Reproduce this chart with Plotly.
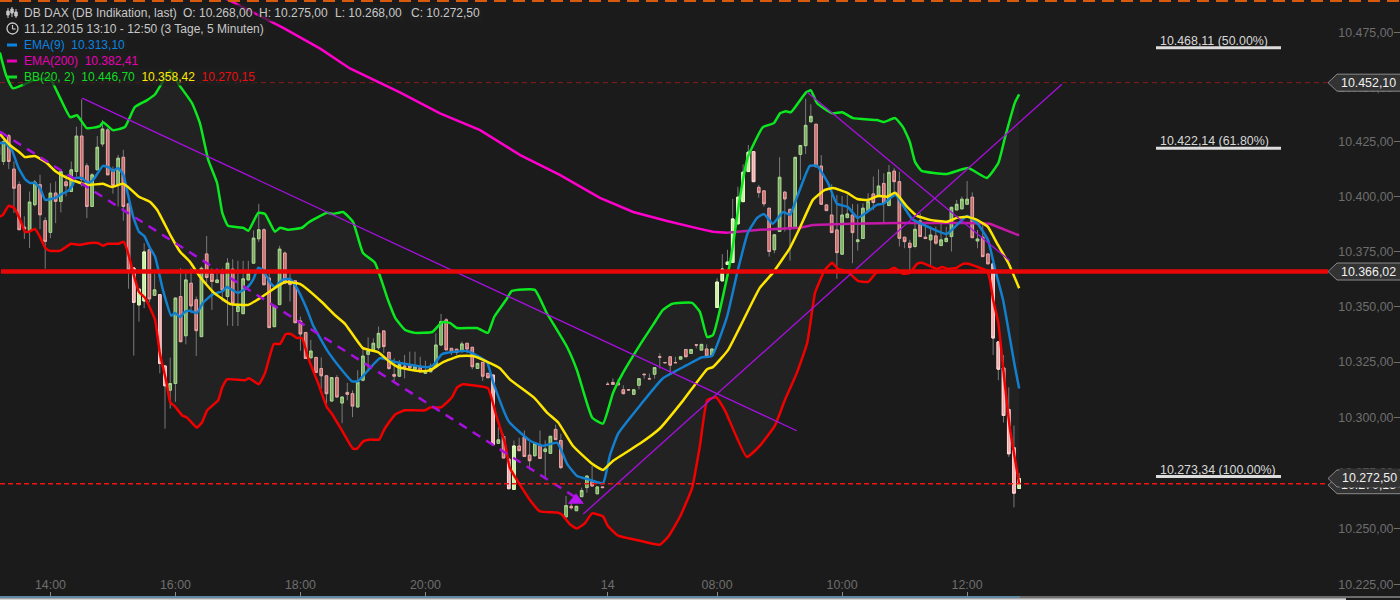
import math
import plotly.graph_objects as go

# ---- candles (5 minute bars, index 0 = 11.12.2015 13:10) ----
opens = [
10422.7,10416.1,10427.9,10412.6,10405.5,10386.2,10384.7,10396.4,10405.5,10389.1,
10383.8,10401.7,10397.9,10406.8,10402.4,10411.5,10427.7,10414.1,10395.6,10412.3,
10424.1,10430.5,10412.3,10405.5,10418.0,10396.8,10367.6,10350.9,10352.7,10375.9,
10355.2,10355.5,10323.2,10312.3,10315.3,10354.7,10336.9,10360.7,10353.2,10336.5,
10374.0,10365.0,10361.0,10365.0,10354.7,10367.1,10347.9,10346.9,10362.2,10369.8,
10380.9,10385.0,10363.0,10341.0,10351.0,10374.4,10362.2,10361.8,10343.6,10338.4,
10326.9,10327.1,10322.1,10318.8,10307.4,10318.0,10306.5,10311.3,10310.7,10304.7,
10316.8,10328.5,10330.4,10331.5,10339.1,10329.4,10319.4,10318.6,10323.2,10323.2,
10321.8,10322.6,10319.9,10320.6,10322.9,10332.7,10344.1,10331.2,10330.8,10329.7,
10333.5,10331.7,10322.1,10324.9,10319.9,10319.1,10288.3,10291.4,10281.2,10267.6,
10287.1,10291.1,10283.0,10282.7,10287.3,10284.6,10283.8,10294.6,10289.6,10255.2,
10260.0,10258.0,10264.3,10268.4,10271.1,10265.6,10268.7,10315.0,10315.8,10315.6,
10312.5,10312.5,10310.4,10314.5,10319.5,10317.5,10319.5,10327.4,10324.8,10327.4,
10324.8,10326.3,10330.7,10328.9,10332.8,10330.4,10330.9,10328.1,10349.7,10361.8,
10369.2,10370.1,10387.7,10397.8,10411.5,10420.6,10404.3,10402.7,10394.8,10375.9,
10384.2,10402.1,10394.3,10386.0,10419.3,10423.3,10434.2,10433.1,10414.0,10396.3,
10391.7,10384.9,10373.9,10390.5,10391.7,10379.6,10381.0,10393.7,10401.3,10400.1,
10406.1,10396.0,10411.7,10406.9,10381.6,10378.9,10377.4,10389.0,10381.6,10380.4,
10382.2,10377.8,10379.6,10381.9,10394.0,10394.5,10396.6,10399.8,10379.9,10381.6,
10374.0,10369.5,10334.1,10322.3,10303.6,10286.3,10268.0]
highs = [
10424.1,10426.7,10428.6,10416.1,10407.0,10391.1,10402.4,10407.7,10410.0,10390.6,
10406.2,10407.0,10412.3,10410.0,10416.1,10432.0,10444.5,10415.3,10410.8,10427.7,
10435.0,10431.4,10413.8,10419.1,10421.4,10396.8,10367.6,10358.0,10378.9,10378.2,
10365.0,10355.5,10323.2,10327.0,10354.0,10367.5,10366.8,10367.5,10354.7,10368.3,
10382.2,10367.5,10366.0,10367.5,10372.1,10371.6,10370.9,10370.9,10370.9,10384.7,
10396.8,10385.7,10366.8,10350.4,10377.7,10375.1,10365.0,10361.8,10345.6,10338.4,
10335.0,10327.1,10327.1,10318.8,10318.0,10319.1,10309.2,10315.6,10312.2,10321.3,
10331.2,10336.2,10335.7,10341.1,10339.1,10329.4,10326.7,10325.9,10328.2,10329.7,
10329.7,10327.4,10325.6,10324.4,10338.0,10346.8,10344.9,10331.2,10330.8,10334.3,
10333.5,10331.7,10324.4,10324.9,10319.9,10319.1,10295.6,10292.6,10281.2,10289.6,
10290.8,10294.1,10288.8,10288.3,10294.1,10289.6,10291.5,10296.7,10292.6,10264.6,
10263.0,10260.0,10268.4,10273.6,10278.2,10268.7,10268.7,10316.1,10317.6,10317.5,
10314.5,10312.5,10312.5,10317.5,10319.8,10319.8,10322.5,10328.9,10324.8,10327.4,
10327.4,10327.4,10330.7,10330.7,10332.8,10333.0,10333.0,10330.9,10363.0,10373.9,
10375.9,10399.0,10404.6,10414.8,10423.6,10420.6,10405.4,10402.7,10394.8,10382.7,
10418.0,10402.7,10394.3,10418.0,10423.4,10444.8,10442.2,10433.1,10419.0,10396.3,
10405.7,10400.8,10400.4,10400.8,10396.7,10396.7,10397.0,10401.6,10409.2,10412.5,
10410.7,10414.5,10413.0,10411.4,10381.6,10380.4,10389.5,10392.5,10388.3,10386.4,
10386.4,10389.2,10386.4,10395.5,10398.6,10400.1,10407.2,10402.0,10384.9,10388.0,
10374.0,10369.5,10334.1,10328.2,10313.6,10296.3,10275.0]
lows = [
10417.6,10414.5,10412.6,10392.6,10385.0,10380.8,10376.7,10395.6,10385.3,10367.3,
10381.2,10388.0,10392.9,10400.2,10402.4,10409.2,10404.7,10390.3,10395.3,10412.3,
10422.9,10410.0,10401.4,10395.6,10389.1,10358.2,10327.9,10343.3,10349.4,10352.1,
10355.2,10319.9,10294.9,10304.0,10307.0,10334.2,10333.0,10347.1,10327.8,10336.5,
10360.7,10348.6,10361.0,10352.4,10341.5,10341.3,10341.3,10346.9,10362.2,10369.8,
10379.4,10360.0,10340.3,10341.0,10351.0,10360.7,10352.4,10342.8,10330.1,10326.6,
10326.9,10320.3,10313.0,10305.0,10307.1,10309.2,10297.4,10307.7,10300.1,10304.7,
10316.3,10321.3,10330.4,10330.5,10329.0,10321.4,10315.6,10318.6,10317.6,10321.4,
10321.4,10320.6,10319.9,10320.6,10322.9,10332.7,10330.5,10328.2,10328.2,10329.7,
10329.0,10321.7,10322.1,10316.5,10317.9,10287.7,10288.3,10281.7,10267.9,10267.6,
10285.0,10282.4,10276.4,10282.7,10281.5,10272.4,10283.8,10290.0,10276.7,10255.2,
10258.5,10258.0,10264.3,10266.1,10269.1,10265.6,10268.4,10314.9,10314.9,10314.7,
10310.7,10312.4,10310.4,10312.7,10317.5,10317.4,10317.5,10322.1,10324.7,10320.1,
10324.7,10326.3,10327.4,10328.9,10331.2,10330.4,10327.7,10328.1,10349.7,10361.8,
10369.2,10370.1,10387.7,10397.8,10411.5,10406.9,10399.6,10395.6,10372.8,10374.3,
10384.2,10384.2,10371.0,10386.0,10407.7,10419.5,10434.2,10413.7,10396.6,10393.7,
10383.7,10362.7,10373.9,10390.5,10369.8,10375.5,10381.0,10393.7,10394.0,10400.1,
10388.0,10396.0,10400.1,10377.4,10376.6,10366.7,10376.6,10381.9,10381.0,10368.3,
10378.1,10377.8,10379.6,10375.1,10394.0,10394.5,10396.6,10381.4,10376.6,10372.8,
10369.5,10328.2,10316.8,10297.7,10282.2,10259.5,10268.0]
closes = [
10419.1,10425.2,10416.1,10403.9,10385.0,10385.3,10397.6,10406.7,10391.8,10379.7,
10401.7,10397.9,10411.5,10405.0,10412.3,10427.7,10408.0,10395.6,10410.0,10422.6,
10430.9,10410.0,10405.2,10417.6,10395.6,10366.8,10352.0,10358.0,10374.9,10353.6,
10357.7,10324.4,10314.3,10315.3,10354.0,10334.2,10362.2,10350.4,10339.2,10367.5,
10363.3,10361.5,10362.2,10357.7,10369.8,10351.6,10350.1,10362.7,10365.0,10381.2,
10385.0,10360.0,10340.6,10350.4,10376.2,10360.7,10360.1,10342.8,10337.7,10326.6,
10330.0,10320.3,10318.8,10310.7,10318.0,10309.2,10309.2,10310.4,10305.1,10316.0,
10327.7,10330.1,10333.5,10338.0,10332.0,10322.1,10318.6,10323.9,10322.7,10322.4,
10323.2,10320.6,10321.1,10322.1,10332.7,10343.3,10330.5,10329.4,10329.4,10333.2,
10330.9,10322.9,10324.4,10318.6,10317.9,10287.7,10289.9,10281.7,10267.9,10287.1,
10285.0,10282.4,10280.5,10288.3,10281.5,10285.8,10291.5,10290.0,10277.4,10260.3,
10259.3,10260.0,10267.1,10273.6,10269.1,10268.7,10268.4,10314.9,10314.9,10314.7,
10310.7,10312.4,10312.5,10317.5,10319.3,10317.4,10322.5,10327.2,10324.7,10323.6,
10324.7,10327.4,10327.4,10330.7,10332.7,10333.0,10327.7,10330.9,10361.2,10367.1,
10370.3,10389.9,10399.8,10411.2,10420.3,10406.9,10401.9,10396.8,10375.1,10382.7,
10408.9,10399.0,10385.4,10418.0,10423.4,10432.6,10436.7,10413.7,10396.6,10393.7,
10383.7,10374.6,10391.7,10392.2,10383.7,10380.4,10394.8,10397.8,10397.4,10404.9,
10397.0,10411.1,10406.9,10381.1,10379.6,10376.9,10385.2,10381.9,10381.0,10382.6,
10378.9,10380.4,10381.1,10395.2,10396.6,10398.9,10398.9,10381.4,10380.8,10372.8,
10369.5,10335.9,10321.8,10300.9,10283.6,10265.9,10272.5]

# bars that the chart paints in a paler tone
pale_bars = [26, 27, 28, 31, 32, 95, 98, 99, 138, 139, 140, 141, 142, 143, 144, 145, 191, 192, 193, 194, 195, 196]

# ---- Bollinger upper ----
bb_up_x = [0.3,1.5,2.8,6.7,9.9,11.8,13.8,15.1,17,19.5,20.1,22,24.3,26.2,28.5,30.1,33,34.5,37.2,38.7,40.3,42,43,44.1,47,48,49.9,51.2,53.1,54.1,55.6,58.3,59.5,63.1,64.3,66.2,68.1,70,72.3,74.8,76.2,78.1,80,83.3,85.2,86.7,88.1,91.9,94,95.2,97.5,98.6,103,105.3,109.2,111.1,114,116.1,118,119.7,123.8,125.7,127.6,129.3,133.2,134.7,136.1,137.2,140.1,141,142.4,143.9,146.8,148.9,150.1,151.2,152.2,155.1,156,157.2,160.1,162,164.1,168.7,170,172.2,173.7,175,176,177.3,182.1,186.2,189.8,192,193.3,195.2,196]
bb_up_y = [10465.9,10455.4,10449.5,10453.1,10454.0,10445.4,10436.3,10437.2,10431.3,10432.2,10434.0,10430.4,10431.8,10440.9,10444.0,10446.8,10457.7,10451.8,10442.7,10433.6,10416.8,10406.3,10392.7,10386.8,10385.9,10384.5,10392.7,10392.2,10384.1,10385.9,10385.0,10385.9,10388.2,10392.7,10392.2,10393.1,10388.6,10374.5,10370.0,10353.2,10345.0,10339.5,10338.2,10338.6,10343.1,10342.7,10340.4,10340.4,10338.2,10345.4,10353.2,10357.2,10357.7,10347.2,10331.8,10321.3,10300.0,10297.2,10310.9,10319.1,10335.0,10341.8,10348.6,10351.3,10351.8,10347.7,10336.3,10337.2,10365.4,10377.2,10400.0,10418.1,10431.8,10433.6,10438.1,10439.0,10438.6,10447.7,10448.6,10442.7,10438.1,10438.6,10435.9,10435.0,10434.1,10435.9,10431.8,10425.0,10415.9,10411.8,10410.4,10413.1,10408.6,10415.4,10427.2,10443.1,10446.7]

# ---- Bollinger lower ----
bb_lo_x = [0.3,0.9,2,3,4.2,5.1,5.9,7,8,9,9.9,11.8,14,15.7,17.6,19.1,20.1,21,23,24.1,24.9,26,27,28.2,30.1,31,32.2,33,33.9,35.3,36.2,38.1,39.1,40.1,42.2,43,43.9,47.4,48.1,50,51.2,52.9,54.1,55.2,56.2,57.3,58.3,59.5,61.4,63.1,64,66,68.1,68.9,70,71.4,73.1,74.2,76.2,78.1,81.9,82.9,85,87.1,88.1,89.2,91.1,94,95.7,97.3,98.2,102.1,104,107.3,108.2,109.8,111.1,112.6,114,116.1,117,119,123.2,127,128.6,130.9,133.2,134.7,136.1,137.8,139.5,143.7,146.2,149.1,151,153.3,155.3,156.8,157.8,158.7,160.1,161.2,163.1,165,167,168.7,170.8,172,173.7,175,176.4,177.3,180.2,181.2,182.3,184,185.2,186.2,189.8,190.4,191,192,192.9,194.2,196]
bb_lo_y = [10390.9,10391.8,10395.9,10395.0,10389.5,10384.1,10384.1,10385.4,10381.8,10376.8,10375.4,10375.4,10378.6,10378.1,10379.0,10379.0,10377.7,10378.6,10378.6,10379.5,10374.5,10364.5,10356.8,10354.0,10344.0,10329.0,10316.8,10306.8,10305.0,10300.9,10300.0,10295.4,10297.7,10303.2,10307.7,10313.6,10317.2,10316.8,10317.7,10315.0,10320.0,10333.2,10333.2,10337.7,10337.7,10335.9,10335.9,10326.8,10315.4,10304.5,10301.8,10294.0,10285.9,10285.9,10289.1,10290.0,10290.0,10295.0,10301.3,10303.2,10303.2,10304.5,10304.5,10309.1,10313.6,10315.0,10314.5,10313.2,10300.0,10288.2,10277.3,10262.7,10257.7,10257.2,10256.3,10251.8,10250.0,10252.3,10256.8,10255.4,10251.3,10246.8,10244.5,10242.7,10246.3,10255.4,10268.2,10287.2,10307.7,10309.1,10303.2,10282.2,10287.2,10296.3,10307.7,10320.0,10333.6,10356.3,10362.2,10366.8,10370.0,10367.2,10365.9,10361.8,10361.3,10365.9,10366.3,10367.7,10365.0,10365.4,10369.5,10370.0,10367.2,10368.1,10367.2,10367.7,10369.5,10369.5,10366.3,10362.2,10353.2,10342.7,10322.7,10295.4,10270.15]

# ---- Bollinger middle ----
bb_mid_x = [0.3,2.2,4.2,5.1,7,9.3,10.9,12.8,14.7,17.2,20.1,21.8,23.9,24.9,27,29.1,30.5,33,34.9,36.8,38.7,41.2,43,44.5,48,50.6,53.7,55,57.9,62.1,64.6,66.6,70,72.9,75.2,76.7,81,82.9,85.4,88.6,91.1,94,96.3,98.2,103,105.3,107.5,110.3,114,116.1,118,123.2,127,131.5,136.1,137.2,140.1,142.4,146.2,148.7,152,153.9,156.4,158.7,160.3,163,164.9,167,168.9,170.6,172.2,174.5,176.4,178.9,182.1,184,186,187.9,190,191.7,193.9,196]
bb_mid_y = [10428.6,10423.6,10420.0,10418.1,10418.6,10415.4,10411.8,10409.1,10407.2,10405.4,10405.9,10404.5,10405.9,10404.5,10400.0,10397.7,10394.0,10382.7,10375.0,10370.4,10363.6,10356.8,10353.6,10351.3,10350.9,10354.5,10359.5,10361.3,10360.4,10352.2,10346.3,10342.2,10331.3,10329.5,10325.0,10322.7,10320.9,10321.3,10325.0,10327.7,10327.7,10325.0,10322.2,10317.2,10308.6,10302.3,10297.7,10287.2,10279.1,10276.3,10280.4,10288.2,10295.0,10307.7,10321.8,10322.7,10330.4,10340.9,10358.6,10365.4,10376.8,10385.9,10398.6,10403.1,10404.0,10401.8,10399.0,10398.6,10400.4,10400.0,10401.8,10395.4,10391.3,10389.5,10388.6,10390.4,10390.9,10389.5,10386.3,10379.0,10370.0,10358.42]

# ---- EMA(9) ----
ema9_x = [0.3,1.3,2.6,3.8,5.1,6.1,7,8,9,10.9,12.2,13.4,14.3,14.7,16,17.2,18.2,20.1,21.4,22,23,24,24.9,25.9,27,28,29.1,30.1,31.6,33.2,33.9,34.9,35.8,36.8,38.1,39.3,41,42,43.1,43.9,46,47.9,48.9,49.9,50.8,52.2,53.1,54.5,56,57.3,59.3,60.4,63.1,66,67.9,69,73.3,76.2,82.3,83.5,85.2,90,93.8,95,98,102.1,104.6,107.3,109.2,111.1,113.2,116.1,117.4,119,123.2,127.6,132.2,135.1,137,139.9,142,143.9,145.7,147,148.7,150.7,152,153.3,155.8,157.2,159.3,161,163.1,165,168.7,169.9,172.2,175.4,178.9,182.1,186,187.9,190,191.4,192.9,195.2,196]
ema9_y = [10424.5,10424.5,10421.3,10413.6,10408.1,10406.3,10406.3,10404.0,10398.6,10399.5,10401.3,10402.7,10405.4,10408.6,10408.6,10406.3,10407.7,10414.1,10413.1,10411.8,10413.1,10410.0,10400.9,10390.9,10384.1,10382.2,10376.8,10372.7,10357.7,10345.9,10347.2,10345.4,10347.7,10348.2,10347.2,10351.8,10355.4,10356.3,10357.2,10359.0,10356.3,10359.0,10362.2,10367.7,10366.8,10360.9,10359.0,10362.2,10362.7,10358.6,10348.6,10341.8,10330.4,10321.3,10316.3,10316.3,10326.8,10325.0,10322.7,10323.6,10328.6,10330.0,10325.0,10315.9,10298.2,10289.5,10287.2,10288.6,10279.1,10273.6,10272.2,10270.4,10282.7,10292.7,10305.4,10317.7,10323.6,10327.2,10327.7,10345.4,10366.8,10383.6,10390.4,10392.2,10387.7,10393.1,10391.8,10399.5,10414.1,10414.1,10406.3,10396.8,10395.4,10390.4,10396.3,10396.8,10400.9,10390.0,10385.9,10383.1,10391.3,10388.1,10380.4,10366.8,10353.2,10322.7,10313.1]

# ---- EMA(200) ----
ema200_x = [43.5,54.7,61.8,67.5,77.1,84.8,92.5,100.2,107.8,115.5,121.9,128.4,134.7,137.2,139.9,142.4,146.2,153.9,156.4,163.5,172.5,186,190.4,192.3,196]
ema200_y = [10490.9,10477.2,10467.7,10458.6,10447.7,10438.1,10430.4,10419.0,10410.0,10399.5,10393.1,10389.0,10385.4,10384.1,10383.6,10384.1,10385.0,10385.9,10387.2,10387.7,10388.1,10388.1,10387.7,10385.9,10382.41]
ema200_split = 15  # index of the point where the curve enters the band

# ---- trend lines (start/end bar, start/end price) ----
trend_solid = [([16.1, 153.3], [10445.0, 10294.0]),
               ([155.3, 194.2], [10447.7, 10370.9]),
               ([112.3, 204.2], [10256.5, 10451.4])]
trend_dash = ([0.32, 111.3], [10429.7, 10263.3])
arrow_point = ([110.9], [10262.7])

# ---- levels ----
tick_prices = [10225, 10250, 10275, 10300, 10325, 10350, 10375, 10400, 10425, 10450, 10475]
tick_bars = [10, 34, 58, 82, 117, 138, 162, 186]
tick_texts = ["14:00", "16:00", "18:00", "20:00", "14", "08:00", "10:00", "12:00"]
fib_levels = [10468.11, 10422.14, 10273.34]
fib_texts = ["10.468,11 (50.00%)", "10.422,14 (61.80%)", "10.273,34 (100.00%)"]
support_level = 10366.02
dash_levels = [10452.10, 10270.15]

# ---- page geometry ----
W, H = 1400, 600
PLOT_H = 597
BAR_PX = 125 / 24
X0 = 0.32
YA, YB = 32.7, 584.3
K = (YB - YA) / (math.log10(10475) - math.log10(10225))
ytop = math.log10(10475) + YA / K
ybot = math.log10(10225) - (PLOT_H - YB) / K
xrange_ = [X0, X0 + W / BAR_PX]
def bar_at(px): return X0 + px / BAR_PX
def px_of_price(p): return YA + K * (math.log10(10475) - math.log10(p))
def xp(px): return px / W
def yp(py): return 1 - py / PLOT_H

BG = "#1b1b1b"
BAND = "#222222"
FONT = "Liberation Sans"
GREEN, YELLOW, RED, BLUE, MAG = "#0ce81f", "#ffe600", "#f20000", "#127fcf", "#ff00cc"
PURPLE = "#a80fe0"

fig = go.Figure()
over = dict(xaxis="x2", yaxis="y2", hoverinfo="skip")

# band lies on the base axes, everything else on the overlay axes above it
fig.add_trace(go.Scatter(x=bb_up_x + bb_lo_x[::-1], y=bb_up_y + bb_lo_y[::-1], mode="lines",
                         fill="toself", fillcolor=BAND, line=dict(width=0), hoverinfo="skip"))
dash_end = bar_at(1328)
fig.add_trace(go.Scatter(x=[X0, dash_end], y=[dash_levels[0]] * 2, mode="lines",
                         line=dict(color="#8f1c1c", width=1, dash="5px,4px"), hoverinfo="skip"))
# wicks + bodies
idx = list(range(len(opens)))
fig.add_trace(go.Candlestick(x=idx, open=opens, high=highs, low=lows, close=closes, whiskerwidth=0,
                             increasing=dict(line=dict(color="#7a7a7a", width=1), fillcolor="#7a7a7a"),
                             decreasing=dict(line=dict(color="#7a7a7a", width=1), fillcolor="#7a7a7a"),
                             **over))
body_hi = [max(o, c) for o, c in zip(opens, closes)]
body_lo = [min(o, c) for o, c in zip(opens, closes)]
fig.add_trace(go.Candlestick(x=idx, open=opens, high=body_hi, low=body_lo, close=closes, whiskerwidth=0,
                             increasing=dict(line=dict(color="#a6d98a", width=1), fillcolor="#7aa862"),
                             decreasing=dict(line=dict(color="#eba3a3", width=1), fillcolor="#c56a6a"),
                             **over))
# the pale bars keep the width of the others: the gaps in between are left empty
pick = [i if i in pale_bars else None for i in idx]
def pale(seq): return [seq[i] if i in pale_bars else None for i in idx]
fig.add_trace(go.Candlestick(x=idx, open=pale(opens), high=pale(body_hi), low=pale(body_lo), close=pale(closes),
                             whiskerwidth=0,
                             increasing=dict(line=dict(color="#e6ffc8", width=1), fillcolor="#c4eb9c"),
                             decreasing=dict(line=dict(color="#ffd6d6", width=1), fillcolor="#f0a8a8"),
                             **over))
# indicators
s = ema200_split
fig.add_trace(go.Scatter(x=ema200_x[:s], y=ema200_y[:s], mode="lines", line=dict(color=MAG, width=2.5), **over))
fig.add_trace(go.Scatter(x=ema200_x[s-1:], y=ema200_y[s-1:], mode="lines", line=dict(color="#c418a6", width=2.5), **over))
for x_vals, y_vals, col in [(bb_up_x, bb_up_y, GREEN), (bb_lo_x, bb_lo_y, RED),
                            (ema9_x, ema9_y, BLUE), (bb_mid_x, bb_mid_y, YELLOW)]:
    fig.add_trace(go.Scatter(x=x_vals, y=y_vals, mode="lines",
                             line=dict(color=col, width=2.5, shape="spline", smoothing=0.4), **over))
# trend lines
for tx, ty in trend_solid:
    fig.add_trace(go.Scatter(x=tx, y=ty, mode="lines", line=dict(color=PURPLE, width=1.3), **over))
fig.add_trace(go.Scatter(x=trend_dash[0], y=trend_dash[1], mode="lines",
                         line=dict(color=PURPLE, width=2.5, dash="9px,7px"), **over))
fig.add_trace(go.Scatter(x=arrow_point[0], y=arrow_point[1], mode="markers",
                         marker=dict(symbol="triangle-up", size=14, color="#b815f0"), **over))
# levels
fig.add_trace(go.Scatter(x=[X0, dash_end], y=[dash_levels[1]] * 2, mode="lines",
                         line=dict(color="#f01414", width=1.4, dash="5px,3px"), **over))
fig.add_trace(go.Scatter(x=[bar_at(1), dash_end], y=[support_level] * 2, mode="lines",
                         line=dict(color="#e80606", width=4.5), **over))
fib_x = [bar_at(1156), bar_at(1281)]
for lv in fib_levels:
    fig.add_trace(go.Scatter(x=fib_x, y=[lv, lv], mode="lines",
                             line=dict(color="#dcdcdc", width=3), **over))

shapes, ann = [], []
def pline(x0, y0, x1, y1, color, width):
    shapes.append(dict(type="line", xref="paper", yref="paper", x0=xp(x0), x1=xp(x1), y0=yp(y0), y1=yp(y1),
                       line=dict(color=color, width=width), layer="above"))

# top/bottom strips
shapes.append(dict(type="line", xref="paper", yref="paper", x0=0, x1=1, y0=yp(1), y1=yp(1),
                   line=dict(color="#d85a0c", width=2, dash="12px,7px"), layer="above"))
pline(0, 597, 1400, 597, "#8a8a8a", 1.6)
pline(0, 597, 1020, 597, "#5b93b5", 1.6)
pline(0, 599.2, 1346, 599.2, "#d5d5d5", 1.8)

# header rows
GREY = "#c8c8c8"
rows = [
    (22, 13, "DB DAX (DB Indikation, last)"),
    (181, 13, "O: 10.268,00"),
    (257, 13, "H: 10.275,00"),
    (333, 13, "L: 10.268,00"),
    (409, 13, "C: 10.272,50"),
    (22, 29, "11.12.2015 13:10 - 12:50 (3 Tage, 5 Minuten)"),
    (22, 45, '<span style="color:#0a84e0">EMA(9)  10.313,10</span>'),
    (22, 61, '<span style="color:#e800b8">EMA(200)  10.382,41</span>'),
    (22, 77, '<span style="color:#10dc22">BB(20, 2)  10.446,70</span>  <span style="color:#ffe800">10.358,42</span>  '
             '<span style="color:#e81010">10.270,15</span>'),
]
for px, py, txt in rows:
    ann.append(dict(text=txt, xref="paper", yref="paper", x=xp(px), y=yp(py), xanchor="left", yanchor="middle",
                    showarrow=False, font=dict(family=FONT, size=12, color=GREY),
                    bgcolor="rgba(30,30,30,0.72)", borderpad=1))
# legend swatches
for py, col in [(45, "#0a84e0"), (61, "#e800b8"), (77, "#10dc22")]:
    pline(7, py, 17, py, col, 3)
# candle icon
for x0, top, bot, b0, b1 in [(8, 8, 18, 11, 15), (12, 7, 17, 9, 13), (16, 9, 18, 12, 16)]:
    pline(x0, top, x0, bot, GREY, 1)
    shapes.append(dict(type="rect", xref="paper", yref="paper", x0=xp(x0 - 1.2), x1=xp(x0 + 1.2), y0=yp(b0), y1=yp(b1),
                       line=dict(color=GREY, width=1), fillcolor=GREY, layer="above"))
# clock icon
shapes.append(dict(type="circle", xref="paper", yref="paper", x0=xp(7), x1=xp(18), y0=yp(23), y1=yp(34),
                   line=dict(color=GREY, width=1.3), layer="above"))
pline(12.5, 25, 12.5, 29, GREY, 1.2)
pline(12.5, 29, 15.5, 29, GREY, 1.2)

# fib texts
for lv, txt in zip(fib_levels, fib_texts):
    ann.append(dict(text=txt, xref="paper", yref="paper", x=xp(1158), y=yp(px_of_price(lv) - 7),
                    xanchor="left", yanchor="middle", showarrow=False,
                    font=dict(family=FONT, size=12.4, color="#d8d8d8")))

# price tags
def tag(py, txt, cover=False):
    path = "M {} {} L {} {} L {} {} L {} {} L {} {} Z".format(
        xp(1328), yp(py), xp(1337), yp(py - 8.5), xp(1401), yp(py - 8.5), xp(1401), yp(py + 8.5), xp(1337), yp(py + 8.5))
    shapes.append(dict(type="path", xref="paper", yref="paper", path=path, fillcolor="#333333",
                       line=dict(color="#8a8a8a", width=1), layer="above"))
    a = dict(text=txt, xref="paper", yref="paper", x=xp(1339), y=yp(py), xanchor="left", yanchor="middle",
             showarrow=False, font=dict(family=FONT, size=12.4, color="#f0f0f0"))
    if cover:
        a.update(bgcolor="#333333", borderpad=2)
    ann.append(a)
tag(px_of_price(dash_levels[1]) + 1.5, "10.270,15")
tag(px_of_price(closes[-1]), "10.272,50", cover=True)
tag(px_of_price(dash_levels[0]), "10.452,10")
tag(px_of_price(support_level), "10.366,02")

tick_font = dict(family=FONT, size=12.4, color="#6e6e6e")
fig.update_layout(
    width=W, height=H, margin=dict(l=0, r=0, t=0, b=H - PLOT_H), autosize=False,
    paper_bgcolor=BG, plot_bgcolor=BG, showlegend=False, separators=",.",
    font=dict(family=FONT, size=12, color="#6e6e6e"), shapes=shapes, annotations=ann,
    xaxis=dict(range=xrange_, visible=False, fixedrange=True, rangeslider=dict(visible=False)),
    xaxis2=dict(range=xrange_, overlaying="x", anchor="y2", side="bottom", tickmode="array", tickvals=tick_bars,
                ticktext=tick_texts, ticks="inside", ticklen=5, tickcolor="#8a8a8a", tickwidth=1,
                ticklabelposition="inside", showgrid=False, zeroline=False, showline=False,
                rangeslider=dict(visible=False), tickfont=tick_font, fixedrange=True),
    yaxis=dict(type="log", range=[ybot, ytop], side="right", tickmode="array", tickvals=tick_prices,
               tickformat=",.2f", ticks="inside", ticklen=6, tickcolor="#6e6e6e", tickwidth=1,
               ticklabelposition="inside", showgrid=False, zeroline=False, showline=False,
               tickfont=tick_font, fixedrange=True),
    yaxis2=dict(type="log", range=[ybot, ytop], overlaying="y", anchor="x2", side="left", visible=False,
                fixedrange=True),
)

fig.write_html("out.html", config={"displayModeBar": False},
               post_script="document.body.style.margin='0';document.body.style.background='#1b1b1b';")
